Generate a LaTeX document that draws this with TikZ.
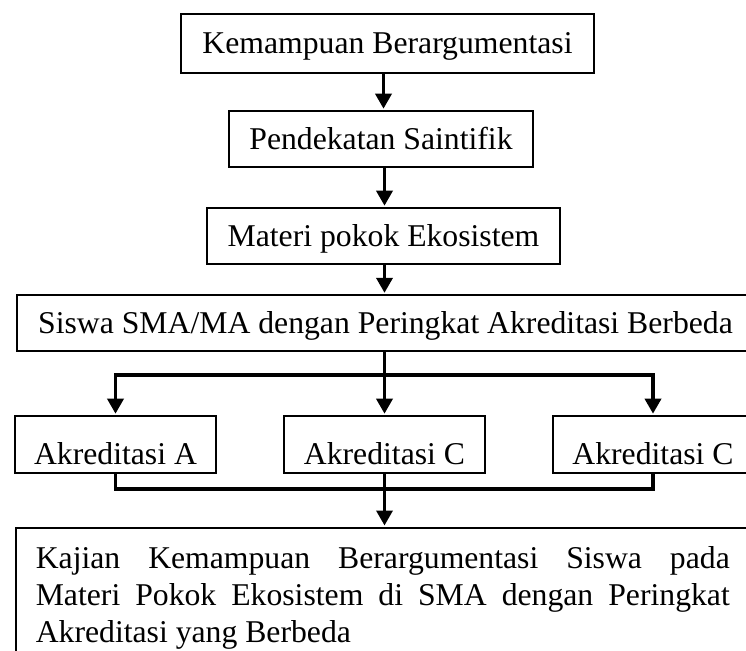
\documentclass[tikz,border=0pt]{standalone}
\usepackage{fontspec}
\setmainfont{Liberation Serif}
\usetikzlibrary{arrows.meta,calc}
\begin{document}
\begin{tikzpicture}[x=1pt,y=-1pt,
  box/.style={draw,line width=1.6pt,inner sep=0pt,rectangle,
    font=\fontsize{31.7}{37}\selectfont,text height=28pt,text depth=7pt},
  rowbox/.style={box,text height=47pt,text depth=7pt},
  conn/.style={line width=3.5pt,line join=miter},
  arr/.style={conn,-{Triangle[width=16pt,length=15pt]},shorten >=1.5pt}]
\useasboundingbox (0,0) rectangle (746,650);
\node[box,line width=2.2pt,minimum width=413pt,minimum height=59pt] (b1) at (387.5,43.5) {Kemampuan Berargumentasi};
\node[box,minimum width=304pt,minimum height=56pt] (b2) at (381,139) {Pendekatan Saintifik};
\node[box,minimum width=353pt,minimum height=56pt] (b3) at (383.5,236) {Materi pokok Ekosistem};
\node[box,line width=1.3pt,minimum width=737pt,minimum height=56pt] (b4) at (385.5,323) {Siswa SMA/MA dengan Peringkat Akreditasi Berbeda};
\node[rowbox,minimum width=201pt,minimum height=57pt] (bA) at (115.5,444.5) {Akreditasi A};
\node[rowbox,minimum width=201pt,minimum height=57pt] (bB) at (384.5,444.5) {Akreditasi C};
\node[rowbox,minimum width=200pt,minimum height=57pt] (bC) at (653,444.5) {Akreditasi C};
\node[draw,line width=1.6pt,rectangle,anchor=north west,text width=694pt,align=justify,
  inner xsep=20pt,inner ysep=19pt,font=\fontsize{31.7}{37}\selectfont] (b7) at (15,527)
  {\noindent Kajian Kemampuan Berargumentasi Siswa pada\linebreak Materi Pokok Ekosistem di SMA dengan Peringkat\linebreak Akreditasi yang Berbeda};
\coordinate (sp) at (383.5,0);
\draw[arr] (b1.south -| sp) -- (b2.north -| sp);
\draw[arr] (b2.south -| bB.north) -- (b3.north -| bB.north);
\draw[arr] (b3.south -| bB.north) -- (b4.north -| bB.north);
\coordinate (jt) at ($(bB.north)+(0,-40)$);
\draw[arr] (b4.south -| bB.north) -- (bB.north);
\draw[arr] (jt) -| (bA.north);
\draw[arr] (jt) -| (bC.north);
\coordinate (jb) at ($(bB.south)+(0,15)$);
\draw[conn] (bA.south) |- (jb) -| (bC.south);
\draw[arr] (bB.south) -- (bB.south |- b7.north);
\end{tikzpicture}
\end{document}
